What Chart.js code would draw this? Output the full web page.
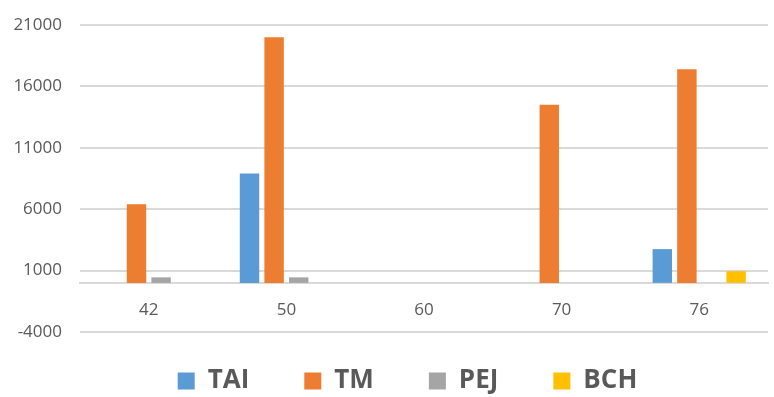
<!DOCTYPE html>
<html>
<head>
<meta charset="utf-8">
<script src="https://cdn.jsdelivr.net/npm/chart.js@4"></script>
<style>
  html, body { margin: 0; padding: 0; background: #ffffff; }
  canvas { display: block; }
</style>
</head>
<body>
<canvas id="chart" width="774" height="397"></canvas>
<script>
// Categories along the x axis
const categories = ['42', '50', '60', '70', '76'];

// Series values (null = no bar in that category)
const taiValues = [null, 8900, null, null, 2750];
const tmValues  = [6400, 20000, null, 14500, 17400];
const pejValues = [450, 450, null, null, null];
const bchValues = [null, null, null, null, 950];

// Value axis range and tick step
const yMin = -4000;
const yMax = 21000;
const yStep = 5000;

const textGrey = '#595959';
const gridGrey = '#d9d9d9';

// Moves the bottom legend up towards the plot and centres it under the plot area
const legendPlacement = {
  id: 'legendPlacement',
  afterLayout(chart) {
    const lg = chart.legend;
    if (!lg) return;
    lg.top -= 19;
    lg.bottom = chart.height;
    lg.height = lg.bottom - lg.top;
    lg.left += 39;
    lg.width = lg.right - lg.left;
  }
};

// Lets the layout padding alone decide where the plot area starts and ends
function noEdgePadding(scale) {
  scale.paddingTop = 0;
  scale.paddingBottom = 0;
}

new Chart(document.getElementById('chart'), {
  type: 'bar',
  data: {
    labels: categories,
    datasets: [
      { label: 'TAI', data: taiValues, backgroundColor: '#5B9BD5' },
      { label: 'TM',  data: tmValues,  backgroundColor: '#ED7D31' },
      { label: 'PEJ', data: pejValues, backgroundColor: '#A5A5A5' },
      { label: 'BCH', data: bchValues, backgroundColor: '#FFC000' }
    ]
  },
  options: {
    responsive: false,
    animation: false,
    devicePixelRatio: 1,
    categoryPercentage: 0.715,
    barPercentage: 0.79,
    layout: { padding: { top: 25, right: 6, bottom: 5, left: 8 } },
    plugins: {
      tooltip: { enabled: false },
      legend: {
        position: 'bottom',
        maxHeight: 60,
        labels: {
          boxWidth: 17,
          boxHeight: 17,
          padding: 55,
          color: textGrey,
          font: { family: "'Open Sans', sans-serif", size: 26, weight: 'bold' }
        }
      }
    },
    scales: {
      x: {
        position: { y: 0 },
        afterFit: noEdgePadding,
        grid: { display: false, drawTicks: false },
        border: { display: true, color: gridGrey, width: 2 },
        ticks: {
          color: textGrey,
          padding: 17,
          font: { family: "'Open Sans', sans-serif", size: 17 }
        }
      },
      y: {
        min: yMin,
        max: yMax,
        afterFit(scale) { scale.width = 72; noEdgePadding(scale); },
        grid: { color: gridGrey, lineWidth: 2, drawTicks: false },
        border: { display: false },
        ticks: {
          stepSize: yStep,
          padding: 18,
          color: textGrey,
          font: { family: "'Open Sans', sans-serif", size: 17 },
          callback: (value) => String(value)
        }
      }
    }
  },
  plugins: [legendPlacement]
});
</script>
</body>
</html>
